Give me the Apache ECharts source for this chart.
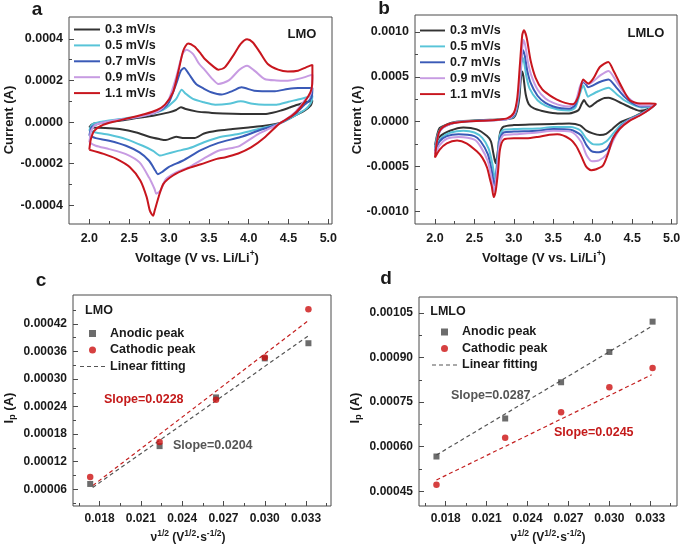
<!DOCTYPE html>
<html><head><meta charset="utf-8">
<script src="https://cdn.jsdelivr.net/npm/echarts@6/dist/echarts.min.js"></script>
<style>html,body{margin:0;padding:0;background:#fff}#c{width:685px;height:554px}</style>
</head><body><div id="c"></div>
<script>
// ---------- DATA ----------
const scanRates = ['0.3 mV/s','0.5 mV/s','0.7 mV/s','0.9 mV/s','1.1 mV/s'];
// Panel a: LMO cyclic voltammograms [V, A]
const lmo03 = [[2.0,-0.000026],[2.02,-0.000015],[2.06,-0.0000065],[2.17,-0.000002],[2.38,0.0000064],[2.59,0.0000193],[2.8,0.0000305],[3.0,0.0000466],[3.09,0.0000578],[3.15,0.0000715],[3.21,0.0000626],[3.34,0.0000514],[3.45,0.0000466],[3.6,0.0000418],[3.8,0.0000395],[4.0,0.0000385],[4.2,0.0000390],[4.3,0.000045],[4.4,0.000055],[4.5,0.000068],[4.6,0.000082],[4.7,0.000093],[4.8,0.000103],
  [4.78,0.000080],[4.7,0.000055],[4.6,0.000035],[4.5,0.0000145],[4.4,-0.000004],[4.2,-0.0000177],[4.0,-0.0000257],[3.8,-0.0000337],[3.6,-0.0000418],[3.44,-0.000055],[3.32,-0.0000771],[3.19,-0.0000771],[3.09,-0.0000707],[2.96,-0.0000867],[2.88,-0.0000819],[2.75,-0.0000707],[2.59,-0.0000498],[2.38,-0.0000337],[2.2,-0.000028],[2.0,-0.000026]];
const lmo05 = [[2.0,-0.000042],[2.02,-0.00002],[2.05,-0.000008],[2.17,0.0000032],[2.38,0.0000145],[2.59,0.0000257],[2.8,0.0000418],[2.92,0.0000578],[3.0,0.0000787],[3.09,0.000111],[3.16,0.000155],[3.21,0.000136],[3.3,0.000111],[3.44,0.0000948],[3.58,0.0000835],[3.75,0.000088],[3.9,0.000100],[4.05,0.000088],[4.2,0.0000835],[4.35,0.0000835],[4.5,0.000098],[4.62,0.000108],[4.72,0.000118],[4.8,0.000127],
  [4.79,0.00010],[4.75,0.000075],[4.7,0.000058],[4.58,0.0000305],[4.39,-0.0000064],[4.12,-0.0000337],[3.87,-0.0000578],[3.62,-0.0000739],[3.44,-0.000097],[3.26,-0.000125],[3.09,-0.000141],[2.96,-0.000154],[2.89,-0.000161],[2.8,-0.000138],[2.67,-0.000114],[2.46,-0.0000819],[2.25,-0.000061],[2.08,-0.0000498],[2.0,-0.000042]];
const lmo07 = [[2.0,-0.000066],[2.015,-0.00004],[2.03,-0.000024],[2.13,-0.0000064],[2.38,0.0000096],[2.59,0.0000225],[2.8,0.0000418],[2.92,0.0000626],[3.0,0.0000948],[3.09,0.000183],[3.15,0.000247],[3.19,0.00026],[3.25,0.000231],[3.34,0.000183],[3.44,0.000160],[3.53,0.000143],[3.66,0.000132],[3.8,0.000150],[3.91,0.000167],[4.07,0.000151],[4.33,0.000148],[4.49,0.000159],[4.62,0.000164],[4.8,0.000164],
  [4.79,0.00012],[4.74,0.000095],[4.7,0.0000835],[4.58,0.0000385],[4.39,-0.0000064],[4.12,-0.0000418],[3.9,-0.000072],[3.62,-0.000100],[3.4,-0.000135],[3.17,-0.000186],[3.0,-0.000215],[2.92,-0.000238],[2.86,-0.000251],[2.83,-0.000234],[2.75,-0.000186],[2.63,-0.000146],[2.46,-0.000114],[2.25,-0.0000899],[2.08,-0.0000771],[2.0,-0.000066]];
const lmo09 = [[2.0,-0.000098],[2.01,-0.00007],[2.02,-0.000045],[2.08,-0.0000128],[2.29,0.0000064],[2.59,0.0000225],[2.8,0.0000418],[2.92,0.0000675],[3.0,0.000111],[3.09,0.000215],[3.17,0.000328],[3.22,0.000348],[3.3,0.000328],[3.38,0.000279],[3.45,0.000250],[3.55,0.000205],[3.62,0.000183],[3.75,0.000200],[3.88,0.000250],[3.98,0.000271],[4.08,0.000245],[4.2,0.000207],[4.35,0.000200],[4.49,0.000199],[4.65,0.000210],[4.8,0.000228],
  [4.795,0.00017],[4.77,0.00013],[4.7,0.000103],[4.58,0.0000466],[4.39,-0.0000064],[4.12,-0.0000578],[3.89,-0.000114],[3.82,-0.000122],[3.62,-0.000138],[3.44,-0.000175],[3.26,-0.000215],[3.09,-0.000242],[2.96,-0.000275],[2.89,-0.000331],[2.84,-0.000344],[2.82,-0.000323],[2.75,-0.000267],[2.63,-0.000194],[2.46,-0.000154],[2.25,-0.00013],[2.08,-0.000114],[2.0,-0.000098]];
const lmo11 = [[2.0,-0.000133],[2.02,-0.000082],[2.06,-0.000042],[2.15,-0.0000177],[2.29,0.0],[2.5,0.0000193],[2.7,0.0000385],[2.85,0.000058],[2.95,0.0000835],[3.05,0.000143],[3.12,0.000247],[3.18,0.000344],[3.24,0.000378],[3.32,0.000363],[3.4,0.000328],[3.45,0.000303],[3.57,0.000263],[3.62,0.000252],[3.7,0.000263],[3.82,0.000328],[3.9,0.000376],[3.98,0.000398],[4.05,0.000384],[4.14,0.000336],[4.24,0.000279],[4.37,0.000252],[4.49,0.000243],[4.62,0.000247],[4.72,0.000263],[4.8,0.000275],
  [4.8,0.00021],[4.79,0.00016],[4.75,0.000125],[4.65,0.00007],[4.55,0.000032],[4.39,-0.0000064],[4.2,-0.0000739],[4.03,-0.000122],[3.87,-0.000151],[3.7,-0.00017],[3.6,-0.000177],[3.4,-0.000203],[3.22,-0.000225],[3.05,-0.000257],[2.93,-0.000297],[2.87,-0.00036],[2.82,-0.000426],[2.80,-0.00045],[2.76,-0.000426],[2.72,-0.000361],[2.64,-0.000281],[2.51,-0.000217],[2.34,-0.000177],[2.18,-0.000153],[2.0,-0.000133]];
// Panel b: LMLO cyclic voltammograms [V, A]
const lmlo03 = [[2.0,-0.000265],[2.03,-0.00014],[2.06,-0.00007],[2.13,-0.000037],[2.27,0.0],[2.57,0.0000185],[2.8,0.000025],[2.92,0.000032],[3.0,0.000048],[3.04,0.000122],[3.07,0.00027],[3.086,0.000456],[3.103,0.000559],[3.12,0.000511],[3.15,0.000307],[3.19,0.000196],[3.255,0.000148],[3.36,0.000119],[3.45,0.000104],[3.58,0.000093],[3.7,0.000093],[3.82,0.00013],[3.86,0.0002],[3.89,0.000241],[3.92,0.0002],[3.96,0.000167],[4.05,0.000222],[4.15,0.000265],[4.2,0.000267],[4.37,0.000204],[4.51,0.000148],[4.6,0.000122],[4.72,0.000148],[4.8,0.000195],
  [4.72,0.000152],[4.59,0.000085],[4.47,0.000037],[4.34,-0.000012],[4.25,-0.00008],[4.17,-0.000135],[4.09,-0.000148],[4.0,-0.00013],[3.92,-0.0001],[3.84,-0.00004],[3.7,-0.00002],[3.5,-0.000025],[3.2,-0.000032],[3.0,-0.000037],[2.87,-0.000055],[2.824,-0.00013],[2.794,-0.00035],[2.769,-0.000463],[2.74,-0.000352],[2.71,-0.00022],[2.66,-0.00016],[2.53,-0.000085],[2.36,-0.000063],[2.19,-0.0001],[2.06,-0.000167],[2.0,-0.000265]];
const lmlo05 = [[2.0,-0.00029],[2.03,-0.00016],[2.07,-0.00008],[2.14,-0.00004],[2.28,-0.000003],[2.57,0.000014],[2.8,0.000022],[2.92,0.00003],[3.0,0.00006],[3.04,0.00016],[3.07,0.00036],[3.09,0.00058],[3.11,0.000715],[3.13,0.00066],[3.16,0.00050],[3.2,0.00037],[3.3,0.00024],[3.4,0.00018],[3.5,0.00015],[3.6,0.00013],[3.7,0.000125],[3.78,0.00016],[3.84,0.00032],[3.88,0.000405],[3.91,0.00034],[3.94,0.00028],[3.98,0.0003],[4.07,0.00034],[4.2,0.00038],[4.3,0.00031],[4.4,0.00024],[4.5,0.000195],[4.62,0.00016],[4.72,0.00017],[4.8,0.0002],
  [4.72,0.000145],[4.59,0.00008],[4.47,0.00003],[4.36,-0.00003],[4.26,-0.00013],[4.17,-0.00022],[4.08,-0.000255],[4.0,-0.00025],[3.92,-0.00019],[3.84,-0.000095],[3.72,-0.00006],[3.5,-0.00006],[3.3,-0.000075],[3.0,-0.000082],[2.87,-0.000088],[2.82,-0.00016],[2.79,-0.00042],[2.76,-0.00064],[2.73,-0.00048],[2.68,-0.00030],[2.6,-0.00018],[2.5,-0.00012],[2.36,-0.0001],[2.2,-0.00012],[2.08,-0.00018],[2.0,-0.00029]];
const lmlo07 = [[2.0,-0.00033],[2.03,-0.00018],[2.07,-0.00009],[2.14,-0.000045],[2.28,-0.000005],[2.57,0.000012],[2.8,0.00002],[2.92,0.00003],[3.0,0.00007],[3.04,0.00018],[3.07,0.0004],[3.09,0.00064],[3.115,0.0008],[3.14,0.00073],[3.17,0.00057],[3.21,0.00044],[3.3,0.00029],[3.4,0.00021],[3.5,0.00017],[3.6,0.00015],[3.7,0.000145],[3.78,0.00019],[3.84,0.00037],[3.88,0.00044],[3.91,0.00042],[3.94,0.000385],[3.99,0.0004],[4.08,0.00044],[4.2,0.00047],[4.3,0.00038],[4.4,0.00028],[4.5,0.00021],[4.62,0.00017],[4.72,0.000175],[4.8,0.0002],
  [4.72,0.00014],[4.59,0.000075],[4.47,0.000025],[4.37,-0.00004],[4.27,-0.00016],[4.18,-0.0003],[4.08,-0.00034],[3.99,-0.00033],[3.92,-0.00026],[3.85,-0.00015],[3.72,-0.00009],[3.5,-0.00008],[3.3,-0.0001],[3.0,-0.00011],[2.87,-0.00012],[2.82,-0.0002],[2.79,-0.00048],[2.755,-0.00071],[2.72,-0.00055],[2.67,-0.00036],[2.58,-0.00022],[2.5,-0.00016],[2.3,-0.00014],[2.15,-0.00016],[2.06,-0.00022],[2.0,-0.00033]];
const lmlo09 = [[2.0,-0.00036],[2.03,-0.00019],[2.07,-0.000095],[2.14,-0.000045],[2.28,-0.000005],[2.57,0.00001],[2.8,0.00002],[2.92,0.00003],[3.0,0.00008],[3.04,0.0002],[3.075,0.00045],[3.1,0.00074],[3.12,0.000915],[3.145,0.00085],[3.18,0.00066],[3.22,0.00052],[3.3,0.00036],[3.4,0.00026],[3.5,0.00021],[3.6,0.00018],[3.7,0.00017],[3.78,0.00022],[3.84,0.0004],[3.88,0.000455],[3.92,0.00043],[3.95,0.00042],[4.02,0.00046],[4.1,0.00052],[4.2,0.000567],[4.3,0.00045],[4.4,0.00032],[4.5,0.00023],[4.62,0.00018],[4.72,0.00018],[4.8,0.0002],
  [4.72,0.00014],[4.59,0.00007],[4.47,0.00002],[4.37,-0.00005],[4.27,-0.00019],[4.18,-0.00036],[4.08,-0.00043],[3.99,-0.00044],[3.92,-0.00037],[3.85,-0.00022],[3.72,-0.00011],[3.5,-0.0001],[3.3,-0.00012],[3.0,-0.00014],[2.87,-0.00015],[2.82,-0.00024],[2.79,-0.00052],[2.75,-0.00078],[2.715,-0.00062],[2.67,-0.00044],[2.58,-0.00028],[2.5,-0.0002],[2.3,-0.00017],[2.15,-0.00019],[2.06,-0.00026],[2.0,-0.00036]];
const lmlo11 = [[2.0,-0.0004],[2.02,-0.00025],[2.05,-0.00012],[2.1,-0.00006],[2.2,-0.00002],[2.4,0.000004],[2.6,0.000011],[2.8,0.000022],[2.92,0.00004],[3.0,0.0001],[3.044,0.00027],[3.077,0.00064],[3.107,0.00097],[3.128,0.00102],[3.162,0.00094],[3.213,0.00068],[3.276,0.00049],[3.36,0.00036],[3.445,0.00030],[3.54,0.00025],[3.65,0.00021],[3.75,0.000195],[3.817,0.00028],[3.88,0.00047],[3.943,0.000426],[4.006,0.00048],[4.09,0.00061],[4.197,0.000667],[4.26,0.000574],[4.366,0.00039],[4.47,0.00024],[4.6,0.000204],[4.725,0.000204],[4.8,0.0002],
  [4.72,0.00014],[4.593,0.0000667],[4.466,0.00001],[4.34,-0.0000815],[4.255,-0.00019],[4.192,-0.00036],[4.128,-0.00049],[4.044,-0.00053],[3.98,-0.00054],[3.917,-0.0005],[3.853,-0.00038],[3.79,-0.00027],[3.707,-0.00019],[3.55,-0.00014],[3.45,-0.000145],[3.3,-0.00017],[3.16,-0.000185],[3.0,-0.000185],[2.87,-0.0002],[2.824,-0.00031],[2.8,-0.00055],[2.77,-0.00077],[2.745,-0.00084],[2.72,-0.00072],[2.7,-0.00065],[2.66,-0.00051],[2.6,-0.0004],[2.53,-0.00033],[2.4,-0.00024],[2.28,-0.00021],[2.15,-0.00024],[2.06,-0.00031],[2.0,-0.0004]];
// Panels c, d: peak current vs square root of scan rate
const sqrtScan = [0.01732, 0.02236, 0.02646, 0.03000, 0.03317];
const lmoAnodic = [0.0000716, 0.000154, 0.00026, 0.000345, 0.000378];
const lmoCathodic = [0.0000869, 0.000163, 0.000255, 0.000347, 0.000452];
const lmloAnodic = [0.000567, 0.000695, 0.000817, 0.000919, 0.001021];
const lmloCathodic = [0.000472, 0.00063, 0.000716, 0.0008, 0.000865];
const lmoFitAnodic = [[0.0175, 0.000064], [0.0332, 0.000395]];
const lmoFitCathodic = [[0.0175, 0.000068], [0.0332, 0.000428]];
const lmloFitAnodic = [[0.01732, 0.000572], [0.0331, 0.001005]];
const lmloFitCathodic = [[0.01732, 0.000488], [0.0331, 0.000842]];
const slopeLabels = ['Slope=0.0228', 'Slope=0.0204', 'Slope=0.0287', 'Slope=0.0245'];
// Tick values
const cvXTicks = [2.0, 2.5, 3.0, 3.5, 4.0, 4.5, 5.0];
const cvXMinor = [2.25, 2.75, 3.25, 3.75, 4.25, 4.75];
const aYTicks = [-0.0004, -0.0002, 0, 0.0002, 0.0004];
const aYMinor = [-0.0003, -0.0001, 0.0001, 0.0003];
const bYTicks = [-0.001, -0.0005, 0, 0.0005, 0.001];
const bYMinor = [-0.00075, -0.00025, 0.00025, 0.00075];
const ipXTicks = [0.018, 0.021, 0.024, 0.027, 0.030, 0.033];
const ipXMinor = [0.0165, 0.0195, 0.0225, 0.0255, 0.0285, 0.0315, 0.0345];
const cYTicks = [0.00006, 0.00012, 0.00018, 0.00024, 0.00030, 0.00036, 0.00042];
const cYMinor = [0.00003, 0.00009, 0.00015, 0.00021, 0.00027, 0.00033, 0.00039, 0.00045];
const dYTicks = [0.00045, 0.00060, 0.00075, 0.00090, 0.00105];
const dYMinor = [0.000525, 0.000675, 0.000825, 0.000975];

// ---------- STYLE ----------
const FF = '"Liberation Sans", Arial, sans-serif';
const cvColors = ['#333333', '#58c4d8', '#3a5ab7', '#c79be2', '#c8161e'];
const frame = '#4a4a4a';

function mainAxis(dim, g, min, max, ticks, dec, fs, margin) {
  return {
    type: 'value', gridIndex: g, min: min, max: max,
    position: dim === 'x' ? 'bottom' : 'left',
    axisLine: { show: false, onZero: false },
    splitLine: { show: false },
    axisTick: { show: true, inside: true, length: 5, customValues: ticks, lineStyle: { color: frame, width: 1 } },
    axisLabel: { show: true, customValues: ticks, margin: margin, fontSize: fs, fontWeight: 'bold', color: '#1a1a1a', fontFamily: FF,
      formatter: function (v) { return Number(v).toFixed(dec); } }
  };
}
function minorAxis(dim, g, min, max, ticks) {
  return {
    type: 'value', gridIndex: g, min: min, max: max,
    position: dim === 'x' ? 'bottom' : 'left',
    axisLine: { show: false, onZero: false },
    splitLine: { show: false },
    axisLabel: { show: false },
    axisTick: { show: true, inside: true, length: 3, customValues: ticks, lineStyle: { color: frame, width: 1 } }
  };
}

const grids = [
  { left: 69, top: 17, width: 263, height: 207 },
  { left: 415, top: 15, width: 262, height: 209 },
  { left: 73, top: 295, width: 258, height: 211 },
  { left: 419, top: 297, width: 258, height: 209 }
].map(g => Object.assign({ show: true, borderColor: frame, borderWidth: 1, backgroundColor: 'transparent', containLabel: false }, g));

const xAxes = [
  mainAxis('x', 0, 1.745, 5.046, cvXTicks, 1, 12.5, 8), minorAxis('x', 0, 1.745, 5.046, cvXMinor),
  mainAxis('x', 1, 1.747, 5.068, cvXTicks, 1, 12.5, 8), minorAxis('x', 1, 1.747, 5.068, cvXMinor),
  mainAxis('x', 2, 0.01607, 0.03481, ipXTicks, 3, 12, 7), minorAxis('x', 2, 0.01607, 0.03481, ipXMinor),
  mainAxis('x', 3, 0.01604, 0.03496, ipXTicks, 3, 12, 7), minorAxis('x', 3, 0.01604, 0.03496, ipXMinor)
];
const yAxes = [
  mainAxis('y', 0, -0.00049, 0.000505, aYTicks, 4, 12.5, 6), minorAxis('y', 0, -0.00049, 0.000505, aYMinor),
  mainAxis('y', 1, -0.00114, 0.00119, bYTicks, 4, 12.5, 6), minorAxis('y', 1, -0.00114, 0.00119, bYMinor),
  mainAxis('y', 2, 0.0000236, 0.000483, cYTicks, 5, 12, 6), minorAxis('y', 2, 0.0000236, 0.000483, cYMinor),
  mainAxis('y', 3, 0.0004004, 0.001104, dYTicks, 5, 12, 6), minorAxis('y', 3, 0.0004004, 0.001104, dYMinor)
];

const series = [];
const lmoCurves = [lmo03, lmo05, lmo07, lmo09, lmo11];
const lmloCurves = [lmlo03, lmlo05, lmlo07, lmlo09, lmlo11];
lmoCurves.forEach((d, i) => series.push({ type: 'line', name: scanRates[i], xAxisIndex: 0, yAxisIndex: 0, data: d,
  symbol: 'none', smooth: 0.25, lineStyle: { width: 2, color: cvColors[i] }, itemStyle: { color: cvColors[i] }, z: 2 + i }));
lmloCurves.forEach((d, i) => series.push({ type: 'line', name: scanRates[i], xAxisIndex: 2, yAxisIndex: 2, data: d,
  symbol: 'none', smooth: 0.25, lineStyle: { width: 2, color: cvColors[i] }, itemStyle: { color: cvColors[i] }, z: 2 + i }));

const grayMark = '#474747', redMark = '#cc1010';
function pts(ys) { return sqrtScan.map((x, i) => [x, ys[i]]); }
[[4, lmoAnodic, lmoCathodic, lmoFitAnodic, lmoFitCathodic], [6, lmloAnodic, lmloCathodic, lmloFitAnodic, lmloFitCathodic]].forEach(p => {
  const ax = p[0];
  series.push({ type: 'line', name: 'Linear fitting', xAxisIndex: ax, yAxisIndex: ax, data: p[3], symbol: 'none',
    lineStyle: { color: '#555555', width: 1.2, type: [4, 3] }, itemStyle: { color: '#555555' }, z: 2 });
  series.push({ type: 'line', name: 'fit2', xAxisIndex: ax, yAxisIndex: ax, data: p[4], symbol: 'none',
    lineStyle: { color: '#c42020', width: 1.2, type: [4, 3] }, itemStyle: { color: '#c42020' }, z: 2 });
  series.push({ type: 'scatter', name: 'Anodic peak', xAxisIndex: ax, yAxisIndex: ax, data: pts(p[1]), symbol: 'rect', symbolSize: 6,
    itemStyle: { color: grayMark }, z: 3 });
  series.push({ type: 'scatter', name: 'Cathodic peak', xAxisIndex: ax, yAxisIndex: ax, data: pts(p[2]), symbol: 'circle', symbolSize: 6.5,
    itemStyle: { color: redMark }, z: 4 });
});

const legendText = { fontFamily: FF, fontWeight: 'bold', fontSize: 12.5, color: '#1a1a1a', lineHeight: 12 };
const legendIp = { fontFamily: FF, fontWeight: 'bold', fontSize: 12.5, color: '#1a1a1a', lineHeight: 14 };
const sq = 'path://M0,0L10,0L10,10L0,10Z';
const lineIcon = 'path://M0,0L26,0L26,2L0,2Z';
const dashIcon = 'path://M0,0h4v1.2h-4z M7,0h4v1.2h-4z M14,0h4v1.2h-4z M21,0h4v1.2h-4z';
const cvLegendData = scanRates.map(n => ({ name: n, icon: lineIcon }));
const ipLegendData = [{ name: 'Anodic peak', icon: sq }, { name: 'Cathodic peak', icon: 'circle' }, { name: 'Linear fitting', icon: dashIcon }];
const legends = [
  { orient: 'vertical', left: 74, top: 23, padding: 0, itemWidth: 26, itemHeight: 12, itemGap: 2.9, data: cvLegendData, textStyle: legendText, selectedMode: false },
  { orient: 'vertical', left: 420, top: 24, padding: 0, itemWidth: 25, itemHeight: 12, itemGap: 2.9, data: cvLegendData, textStyle: legendText, selectedMode: false },
  { orient: 'vertical', left: 80, top: 326.5, padding: 0, itemWidth: 25, itemHeight: 7, itemGap: 2.5, textStyle: legendIp, selectedMode: false, data: ipLegendData },
  { orient: 'vertical', left: 432, top: 325, padding: 0, itemWidth: 25, itemHeight: 7, itemGap: 2.5, textStyle: legendIp, selectedMode: false, data: ipLegendData }
];

function txt(x, y, text, opts) {
  return Object.assign({ type: 'text', x: x, y: y, silent: true, z: 100,
    style: Object.assign({ text: text, fontFamily: FF, fontWeight: 'bold', fontSize: 13, fill: '#1a1a1a', align: 'center', verticalAlign: 'middle' }, opts && opts.style) },
    opts && opts.rotation ? { rotation: opts.rotation } : {});
}
const supStyle = { fontFamily: FF, fontWeight: 'bold', fontSize: 8.5, fill: '#1a1a1a', verticalAlign: 'top' };
const subStyle = { fontFamily: FF, fontWeight: 'bold', fontSize: 9, fill: '#1a1a1a', verticalAlign: 'bottom' };
const mainRich = { fontFamily: FF, fontWeight: 'bold', fontSize: 13, fill: '#1a1a1a', lineHeight: 17 };
const voltTitle = 'Voltage (V vs. Li/Li{sup|+})';
const nuTitle = '{m|\u03bd}{sup|1/2}{m| (V}{sup|1/2}{m|\u00b7s}{sup|-1/2}{m|)}';
const ipTitle = '{m|I}{sub|p}{m| (A)}';
const nuRich = { m: Object.assign({}, mainRich, { fontSize: 12 }), sup: supStyle };

const graphic = [
  txt(37, 10, 'a', { style: { fontSize: 19 } }),
  txt(384, 9, 'b', { style: { fontSize: 19 } }),
  txt(41, 281, 'c', { style: { fontSize: 19 } }),
  txt(386, 279, 'd', { style: { fontSize: 19 } }),
  txt(9, 120, 'Current (A)', { rotation: Math.PI / 2 }),
  txt(357, 120, 'Current (A)', { rotation: Math.PI / 2 }),
  txt(197, 258, voltTitle, { style: { lineHeight: 17, rich: { sup: supStyle } } }),
  txt(544, 258, voltTitle, { style: { lineHeight: 17, rich: { sup: supStyle } } }),
  txt(9, 408, ipTitle, { rotation: Math.PI / 2, style: { rich: { m: mainRich, sub: subStyle } } }),
  txt(355, 408, ipTitle, { rotation: Math.PI / 2, style: { rich: { m: mainRich, sub: subStyle } } }),
  txt(188, 538, nuTitle, { style: { rich: nuRich } }),
  txt(548, 538, nuTitle, { style: { rich: nuRich } }),
  txt(302, 34, 'LMO'),
  txt(646, 33, 'LMLO'),
  txt(99, 311, 'LMO', { style: { fontSize: 12.5 } }),
  txt(448, 312, 'LMLO', { style: { fontSize: 12.5 } }),
  txt(104, 400, slopeLabels[0], { style: { align: 'left', fill: '#c41a1a', fontSize: 12.5 } }),
  txt(173, 446, slopeLabels[1], { style: { align: 'left', fill: '#555555', fontSize: 12.5 } }),
  txt(451, 396, slopeLabels[2], { style: { align: 'left', fill: '#555555', fontSize: 12.5 } }),
  txt(554, 433, slopeLabels[3], { style: { align: 'left', fill: '#c41a1a', fontSize: 12.5 } })
];

const chart = echarts.init(document.getElementById('c'), null, { renderer: 'canvas' });
chart.setOption({
  backgroundColor: '#ffffff',
  animation: false,
  grid: grids,
  xAxis: xAxes,
  yAxis: yAxes,
  legend: legends,
  series: series,
  graphic: graphic
});
</script></body></html>
